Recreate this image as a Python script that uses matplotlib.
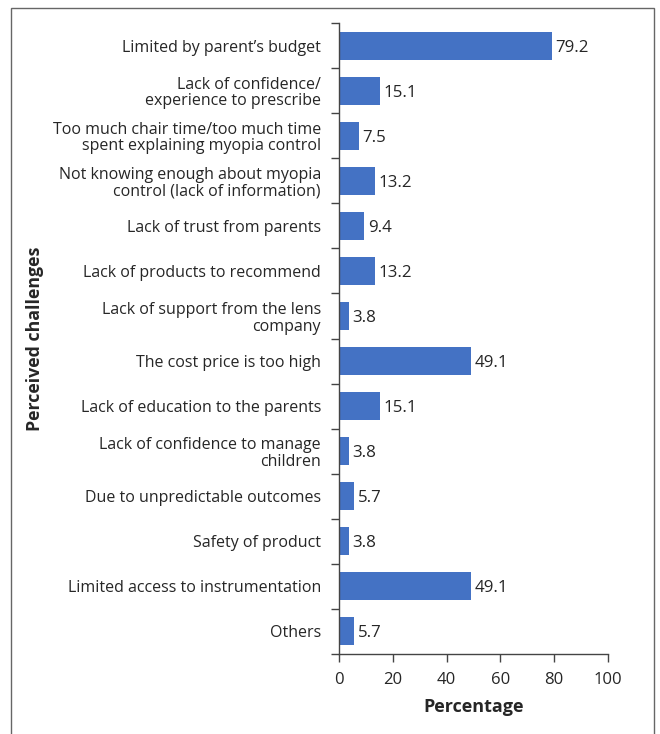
import matplotlib.pyplot as plt
from matplotlib.patches import Rectangle

plt.rcParams['font.family'] = ['Open Sans', 'DejaVu Sans']

# Survey data: perceived challenges (percentage of respondents)
categories = [
    "Limited by parent\u2019s budget",
    "Lack of confidence/\nexperience to prescribe",
    "Too much chair time/too much time\nspent explaining myopia control",
    "Not knowing enough about myopia\ncontrol (lack of information)",
    "Lack of trust from parents",
    "Lack of products to recommend",
    "Lack of support from the lens\ncompany",
    "The cost price is too high",
    "Lack of education to the parents",
    "Lack of confidence to manage\nchildren",
    "Due to unpredictable outcomes",
    "Safety of product",
    "Limited access to instrumentation",
    "Others",
]
values = [79.2, 15.1, 7.5, 13.2, 9.4, 13.2, 3.8, 49.1, 15.1, 3.8, 5.7, 3.8, 49.1, 5.7]
x_ticks = [0, 20, 40, 60, 80, 100]

W, H = 660, 734
TXT = '#262626'
fig = plt.figure(figsize=(W / 100, H / 100), dpi=100)
ax = fig.add_axes([339 / W, 1 - 654 / H, (608 - 339) / W, (654 - 23) / H])

pos = list(range(len(categories)))
ax.barh(pos, values, height=0.62, color='#4472C4', zorder=2)
for p, v in zip(pos, values):
    ax.text(v + 1.3, p, f"{v:.1f}", va='center_baseline', ha='left', fontsize=12.2, color=TXT)

ax.set_ylim(len(categories) - 0.5, -0.5)
ax.set_xlim(0, 100)
ax.set_xticks(x_ticks)
ax.set_xticklabels([str(t) for t in x_ticks])

# labels centred on bars, tick marks at category boundaries
ax.set_yticks(pos)
ax.set_yticklabels(categories, fontsize=11.5, color=TXT, linespacing=1.05)
ax.tick_params(axis='y', which='major', length=0, pad=13)
ax.set_yticks([i - 0.5 for i in range(len(categories) + 1)], minor=True)
ax.tick_params(axis='y', which='minor', length=6, width=1, color='#444444', direction='out')
ax.tick_params(axis='x', length=6, width=1, color='#444444', direction='out',
               labelsize=12, labelcolor=TXT, pad=7)

for s in ['top', 'right']:
    ax.spines[s].set_visible(False)
for s in ['left', 'bottom']:
    ax.spines[s].set_color('#444444')
    ax.spines[s].set_linewidth(1)

ax.set_xlabel('Percentage', fontsize=13, fontweight='bold', color=TXT, labelpad=7)
fig.text(35 / W, 1 - 339 / H, 'Perceived challenges', rotation=90, ha='center', va='center',
         fontsize=12.8, fontweight='bold', color=TXT)

# outer frame around the figure
fig.patches.append(Rectangle((11 / W, -0.05), (654 - 11) / W, 1.05 - 8 / H,
                             transform=fig.transFigure, fill=False,
                             edgecolor='#666666', linewidth=1))

fig.savefig('out.png', dpi=100)
